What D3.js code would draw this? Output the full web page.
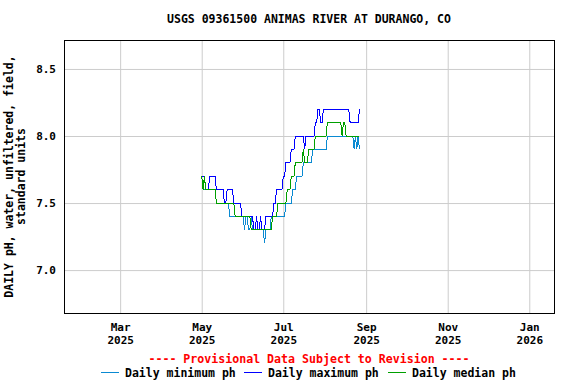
<!DOCTYPE html>
<html><head><meta charset="utf-8">
<script src="https://cdn.jsdelivr.net/npm/d3@7"></script>
<style>
body{margin:0;background:#fff}
svg{display:block}
text{font-family:"DejaVu Sans Mono",monospace;font-weight:bold;fill:#000}
</style>
</head><body><svg id="c" width="576" height="384"></svg>
<script>
const title = "USGS 09361500 ANIMAS RIVER AT DURANGO, CO";
const yLabelLines = ["DAILY pH, water, unfiltered, field,", "standard units"];
const provisional = "---- Provisional Data Subject to Revision ----";
const firstDay = "2025-05-01";
const dailyMin = [
  7.7,7.6,7.6,7.6,7.6,7.6,7.6,7.6,7.6,7.6,
  7.6,7.5,7.5,7.5,7.5,7.5,7.5,7.5,7.5,7.5,
  7.5,7.4,7.4,7.4,7.4,7.4,7.4,7.4,7.4,7.4,
  7.4,7.4,7.3,7.4,7.4,7.3,7.3,7.4,7.3,7.3,
  7.3,7.3,7.3,7.3,7.3,7.3,7.3,7.2,7.3,7.3,
  7.3,7.3,7.4,7.4,7.4,7.4,7.4,7.4,7.4,7.4,
  7.4,7.4,7.4,7.5,7.5,7.5,7.5,7.5,7.6,7.6,
  7.6,7.7,7.7,7.7,7.7,7.7,7.8,7.8,7.8,7.8,
  7.8,7.8,7.8,7.9,7.9,7.9,7.9,7.9,7.9,7.9,
  7.9,7.9,7.9,7.9,8.0,8.0,8.0,8.0,8.0,8.0,
  8.0,8.0,8.0,8.0,8.0,8.0,8.0,8.0,8.0,8.0,
  8.0,8.0,8.0,8.0,7.9,8.0,7.9,8.0,7.9
];
const dailyMax = [
  7.7,7.7,7.7,7.6,7.6,7.6,7.7,7.7,7.7,7.7,
  7.7,7.6,7.6,7.6,7.6,7.6,7.6,7.5,7.5,7.6,
  7.6,7.6,7.6,7.6,7.5,7.5,7.5,7.5,7.5,7.5,
  7.4,7.4,7.4,7.4,7.4,7.4,7.4,7.4,7.4,7.3,
  7.3,7.4,7.3,7.3,7.4,7.3,7.3,7.3,7.4,7.4,
  7.4,7.4,7.4,7.4,7.5,7.5,7.6,7.6,7.6,7.6,
  7.6,7.7,7.7,7.8,7.8,7.8,7.8,7.9,7.9,7.9,
  8.0,8.0,8.0,8.0,8.0,8.0,8.0,7.9,8.0,8.0,
  8.0,8.0,8.0,8.0,8.0,8.1,8.1,8.2,8.2,8.1,
  8.1,8.2,8.2,8.2,8.2,8.2,8.2,8.2,8.2,8.2,
  8.2,8.2,8.2,8.2,8.2,8.2,8.2,8.2,8.2,8.2,
  8.2,8.1,8.1,8.1,8.1,8.1,8.1,8.1,8.2
];
const dailyMedian = [
  7.7,7.6,7.7,7.6,7.6,7.6,7.6,7.6,7.6,7.6,
  7.6,7.5,7.5,7.5,7.5,7.5,7.5,7.5,7.5,7.5,
  7.5,7.5,7.5,7.5,7.5,7.4,7.4,7.4,7.4,7.4,
  7.4,7.4,7.4,7.4,7.4,7.4,7.4,7.3,7.3,7.3,
  7.3,7.3,7.3,7.3,7.3,7.3,7.3,7.3,7.3,7.3,
  7.3,7.3,7.3,7.4,7.4,7.4,7.4,7.5,7.5,7.5,
  7.5,7.5,7.5,7.5,7.6,7.6,7.6,7.7,7.7,7.7,
  7.8,7.8,7.8,7.8,7.8,7.8,7.9,7.8,7.8,7.8,
  7.9,7.9,7.9,7.9,7.9,8.0,8.0,8.0,8.0,8.0,
  8.0,8.0,8.0,8.0,8.1,8.1,8.1,8.1,8.1,8.1,
  8.1,8.1,8.1,8.1,8.1,8.0,8.1,8.1,8.0,8.0,
  8.0,8.0,8.0,8.0,8.0,8.0,8.0,8.0,8.0
];
const yTicks = [7.0, 7.5, 8.0, 8.5];
const xTickDates = ["2025-03-01","2025-05-01","2025-07-01","2025-09-01","2025-11-01","2026-01-01"];
const xTickLabels = [["Mar","2025"],["May","2025"],["Jul","2025"],["Sep","2025"],["Nov","2025"],["Jan","2026"]];
const legendLabels = ["Daily minimum ph","Daily maximum ph","Daily median ph"];
const seriesColors = ["#0a8ad2","#0000ff","#00a000"];

const svg = d3.select("#c");
const L = 64, R = 554, T = 40, B = 313;
const parse = d3.utcParse("%Y-%m-%d");
const x = d3.scaleUtc().domain([parse("2025-01-18"), new Date(Date.UTC(2026,0,19,12))]).range([L, R]);
const y = d3.scaleLinear().domain([6.68, 8.716]).range([B, T]);

const start = parse(firstDay);
const dates = dailyMin.map((_, i) => d3.utcDay.offset(start, i));
const series = [dailyMin, dailyMax, dailyMedian];

// gridlines via axes
const gy = svg.append("g").attr("transform", `translate(${L},0)`)
  .call(d3.axisLeft(y).tickValues(yTicks).tickSize(-(R - L)).tickFormat(d3.format(".1f")));
gy.select(".domain").remove();
gy.selectAll(".tick line").attr("stroke", "#cccccc").attr("stroke-width", 1);
gy.selectAll(".tick text").attr("x", -8).attr("font-size", 11).attr("font-family", "DejaVu Sans Mono").attr("font-weight", "bold").attr("fill", "#000");

const gx = svg.append("g").attr("transform", `translate(0,${B})`)
  .call(d3.axisBottom(x).tickValues(xTickDates.map(parse)).tickSize(-(B - T)).tickFormat(""));
gx.select(".domain").remove();
gx.selectAll(".tick line").attr("stroke", "#cccccc").attr("stroke-width", 1);
gx.selectAll(".tick").each(function(d, i) {
  const t = d3.select(this).select("text").attr("y", 0).attr("dy", null)
    .attr("font-size", 11).attr("font-family", "DejaVu Sans Mono").attr("font-weight", "bold").attr("fill", "#000");
  t.append("tspan").attr("x", 0).attr("y", 18).text(xTickLabels[i][0]);
  t.append("tspan").attr("x", 0).attr("y", 31).text(xTickLabels[i][1]);
});

// lines
const line = d3.line().x((d, i) => x(dates[i])).y(d => y(d));
series.forEach((s, k) => {
  svg.append("path").datum(s).attr("fill", "none").attr("stroke", seriesColors[k])
    .attr("stroke-width", 1).attr("shape-rendering", "crispEdges").attr("d", line);
});

// frame
svg.append("rect").attr("x", L + 0.5).attr("y", T + 0.5).attr("width", R - L).attr("height", B - T)
  .attr("fill", "none").attr("stroke", "#000").attr("stroke-width", 1);

// title
svg.append("text").attr("x", (L + R) / 2).attr("y", 23).attr("text-anchor", "middle")
  .attr("font-size", 11.5).text(title);

// y label
yLabelLines.forEach((t, i) => {
  svg.append("text").attr("transform", `translate(${12.5 + i * 12},${(T + B) / 2}) rotate(-90)`)
    .attr("text-anchor", "middle").attr("font-size", 11.5).text(t);
});

// provisional
svg.append("text").attr("x", (L + R) / 2).attr("y", 363).attr("text-anchor", "middle")
  .attr("font-size", 11.6).style("fill", "#ff0000").text(provisional);

// legend
const legX = [101, 244, 388];
legendLabels.forEach((t, k) => {
  svg.append("line").attr("x1", legX[k]).attr("x2", legX[k] + 18).attr("y1", 372.5).attr("y2", 372.5)
    .attr("stroke", seriesColors[k]).attr("stroke-width", 1);
  svg.append("text").attr("x", legX[k] + 24).attr("y", 377).attr("font-size", 11.5).text(t);
});
</script></body></html>
